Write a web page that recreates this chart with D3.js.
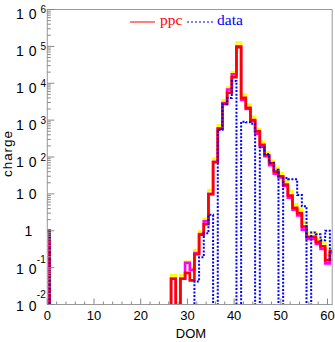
<!DOCTYPE html>
<html><head><meta charset="utf-8">
<script src="https://cdn.jsdelivr.net/npm/d3@7"></script>
<style>body{margin:0;background:#fff}svg{display:block}</style>
</head><body>
<svg id="c" width="335" height="342"></svg>
<script>
// DOM index (bin centre) 0..61
const dom = d3.range(0, 62);
// ppc (red) per DOM
const ppc = [1,0,0,0,0,0,0,0,0,0,0,0,0,0,0,0,0,0,0,0,0,0,0,0,0,0,0,
  0.05,0,0.05,0.072,0.045,0.23,0.78,1.5,9.8,72,575,2750,5500,14500,95000,
  4000,2150,1000,500,215,112,68,40,30,18,9,4.2,3.0,1.3,0.69,0.69,0.5,0.38,0.16,0.28];
// ppc variant (magenta)
const ppcLow = [1,0,0,0,0,0,0,0,0,0,0,0,0,0,0,0,0,0,0,0,0,0,0,0,0,0,0,
  0.05,0,0.05,0.135,0.087,0.25,0.81,1.8,10,74,600,2900,6800,17400,100000,
  3550,2000,930,430,190,105,60,35,28,16.6,7.9,3.7,2.6,1.07,0.6,0.6,0.44,0.32,0.13,0.25];
// ppc variant (yellow)
const ppcHigh = [1,0,0,0,0,0,0,0,0,0,0,0,0,0,0,0,0,0,0,0,0,0,0,0,0,0,0,
  0.062,0,0.062,0.145,0.1,0.3,0.95,2.1,12.6,89,720,3470,7600,20000,126000,
  4900,2630,1230,575,257,135,78,52,36,22,12,5.2,3.8,1.66,0.87,0.89,0.6,0.5,0.22,0.33];
// data (blue dotted)
const data = [1,0,0,0,0,0,0,0,0,0,0,0,0,0,0,0,0,0,0,0,0,0,0,0,0,0,0,
  0,0,0,0,0,0.042,0.19,0.85,2.7,0,550,2700,4000,11500,0,
  910,870,800,0,180,120,70,45,0,27,25,25,9.3,4.6,0,0.9,0.8,0.55,1.0,0.16];

const xTickLabels = [0,10,20,30,40,50,60];
const yTickExps = [6,5,4,3,2,1,0,-1,-2];

const svg = d3.select("#c");
const L = 47.3, R = 332.2, T = 9.5, B = 304.5;
const x = d3.scaleLinear().domain([0, 61]).range([L, R]);
const y = d3.scaleLog().domain([1e-2, 1e6]).range([B, T]);
const FLOOR = 1e-4;
const SANS = "Liberation Sans, Arial, sans-serif";

svg.append("clipPath").attr("id","clip").append("rect")
  .attr("x", L).attr("y", T).attr("width", R - L).attr("height", B - T);

function stepPts(vals) {
  const pts = [[dom[0] - 0.5, FLOOR]];
  dom.forEach((d, i) => {
    const v = vals[i] > 0 ? vals[i] : FLOOR;
    pts.push([d - 0.5, v], [d + 0.5, v]);
  });
  pts.push([dom[dom.length - 1] + 0.5, FLOOR]);
  return pts;
}
const line = d3.line().x(d => x(d[0])).y(d => y(d[1]));
const g = svg.append("g").attr("clip-path", "url(#clip)");
const series = [
  {v: ppcHigh, c: "#ffff00", w: 2.6, dash: null},
  {v: ppcLow, c: "#ff00ff", w: 2.6, dash: null},
  {v: ppc, c: "#ff0000", w: 2.6, dash: null},
  {v: data, c: "#0000ff", w: 2, dash: "2,1.6"}
];
series.forEach(s => {
  g.append("path").attr("d", line(stepPts(s.v)))
    .attr("fill", "none").attr("stroke", s.c).attr("stroke-width", s.w)
    .attr("stroke-linejoin", "miter").attr("stroke-dasharray", s.dash);
});

// frame
svg.append("rect").attr("x", L).attr("y", T).attr("width", R - L).attr("height", B - T)
  .attr("fill", "none").attr("stroke", "#999").attr("stroke-width", 1);

// x ticks
const xt = svg.append("g").attr("stroke", "#888").attr("stroke-width", 1);
d3.range(0, 61, 2).forEach(t => {
  const major = t % 10 === 0;
  xt.append("line").attr("x1", x(t)).attr("x2", x(t)).attr("y1", B).attr("y2", B - (major ? 6 : 3));
});
svg.append("g").selectAll("text").data(xTickLabels).join("text")
  .attr("x", d => x(d)).attr("y", 320).attr("text-anchor", "middle")
  .attr("font-family", SANS).attr("font-size", 13)
  .text(d => d);

// y ticks
const yt = svg.append("g").attr("stroke", "#888").attr("stroke-width", 1);
for (let e = -2; e <= 6; e++) {
  for (let m = 1; m <= 9; m++) {
    const v = m * Math.pow(10, e);
    if (v > 1e6) break;
    yt.append("line").attr("x1", L).attr("x2", L + (m === 1 ? 7 : 3.5))
      .attr("y1", y(v)).attr("y2", y(v));
  }
}
const yl = svg.append("g").attr("font-family", SANS).attr("fill", "#000");
function ten(by) {
  yl.append("text").attr("x", 16).attr("y", by).attr("font-size", 14).text("1");
  yl.append("text").attr("x", 28.8).attr("y", by).attr("font-size", 14).text("0");
}
yTickExps.forEach(e => {
  const ty = y(Math.pow(10, e));
  if (e === 0) {
    yl.append("text").attr("x", 28.5).attr("y", ty + 5).attr("text-anchor", "middle").attr("font-size", 14).text("1");
  } else if (e === 1) {
    ten(ty + 5);
  } else if (e > 1) {
    ten(ty + 9.7);
    yl.append("text").attr("x", 40.5).attr("y", ty + 3.5).attr("font-size", 10).text(e);
  } else {
    ten(ty + 6.4);
    yl.append("text").attr("x", 36.8).attr("y", ty - (e === -1 ? 4.5 : 6.5)).attr("font-size", 10).text(e);
  }
});

// axis titles
svg.append("text").attr("x", 191).attr("y", 338).attr("text-anchor", "middle")
  .attr("font-family", SANS).attr("font-size", 13).text("DOM");
svg.append("text").attr("transform", "translate(12.3,154) rotate(-90)").attr("text-anchor", "middle")
  .attr("font-family", SANS).attr("font-size", 13.5)
  .attr("textLength", 46).attr("lengthAdjust", "spacing").text("charge");

// legend
const leg = svg.append("g");
leg.append("line").attr("x1", 130).attr("x2", 155).attr("y1", 22).attr("y2", 22).attr("stroke", "#ff0000").attr("stroke-width", 1);
leg.append("text").attr("x", 160).attr("y", 24.5).attr("fill", "#ff0000")
  .attr("font-family", "Liberation Serif, Times New Roman, serif").attr("font-size", 15.5).text("ppc");
leg.append("line").attr("x1", 187).attr("x2", 213).attr("y1", 22).attr("y2", 22).attr("stroke", "#0000ff").attr("stroke-width", 1).attr("stroke-dasharray", "2,2");
leg.append("text").attr("x", 217).attr("y", 24.5).attr("fill", "#0000ff")
  .attr("font-family", "Liberation Serif, Times New Roman, serif").attr("font-size", 15.5).text("data");
</script>
</body></html>
